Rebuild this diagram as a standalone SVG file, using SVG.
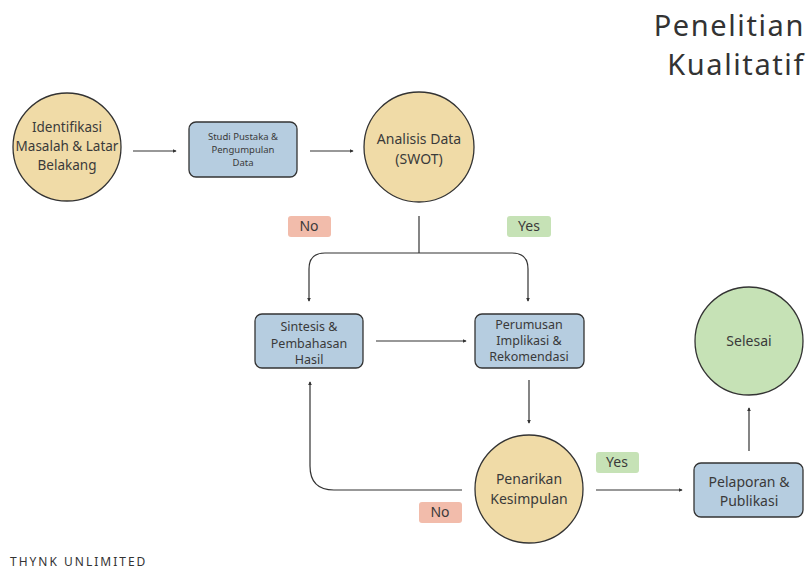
<svg xmlns="http://www.w3.org/2000/svg" width="808" height="570" viewBox="0 0 808 570">
<defs>
<marker id="ah" viewBox="0 0 6 6" refX="5" refY="3" markerWidth="4" markerHeight="4" orient="auto" markerUnits="userSpaceOnUse">
<path d="M0,0 L6,3 L0,6 z" fill="#333"/>
</marker>
<style>
text{font-family:"Noto Sans","DejaVu Sans",sans-serif;fill:#3a3a3a;text-anchor:middle}
.circ{fill:#f0dba7;stroke:#333;stroke-width:1.3}
.circg{fill:#c6e2b6;stroke:#333;stroke-width:1.3}
.box{fill:#b6cde0;stroke:#333;stroke-width:1.3}
.no{fill:#f2bcab}
.yes{fill:#c6e2b6}
.t14{font-size:14px}
.t12{font-size:12.5px}
.t9{font-size:9.5px}
.edge{fill:none;stroke:#333;stroke-width:1.2;marker-end:url(#ah)}
.line{fill:none;stroke:#333;stroke-width:1.2}
</style>
</defs>
<rect width="808" height="570" fill="#fff"/>
<g id="title">
<text x="805" y="36" style="font-size:29px;text-anchor:end;letter-spacing:1.6px;fill:#333">Penelitian</text>
<text x="805" y="75" style="font-size:29px;text-anchor:end;letter-spacing:1.6px;fill:#333">Kualitatif</text>
</g>
<g id="connectors">
<path class="edge" d="M133,151 L176,151"/>
<path class="edge" d="M310,151 L353,151"/>
<path class="line" d="M419,216 L419,253"/>
<path class="edge" d="M419,253 L325,253 Q309,253 309,269 L309,301"/>
<path class="edge" d="M419,253 L512,253 Q528,253 528,269 L528,301"/>
<path class="edge" d="M376,341 L466,341"/>
<path class="edge" d="M529,380 L529,423"/>
<path class="edge" d="M462,490 L334,490 Q310,490 310,466 L310,382"/>
<path class="edge" d="M596,490 L682,490"/>
<path class="edge" d="M749,451 L749,408"/>
</g>
<g id="n1"><circle class="circ" cx="67" cy="147" r="54"/>
<text class="t14" x="67" y="132" style="font-size:13.5px">Identifikasi</text>
<text class="t14" x="67" y="151" style="font-size:13.5px">Masalah &amp; Latar</text>
<text class="t14" x="67" y="170" style="font-size:13.5px">Belakang</text></g>
<g id="n2"><rect class="box" x="189" y="122" width="108" height="55" rx="7"/>
<text class="t9" x="243" y="140">Studi Pustaka &amp;</text>
<text class="t9" x="243" y="153">Pengumpulan</text>
<text class="t9" x="243" y="166">Data</text></g>
<g id="n3"><circle class="circ" cx="419" cy="147" r="55"/>
<text class="t14" x="419" y="144">Analisis Data</text>
<text class="t14" x="419" y="164">(SWOT)</text></g>
<g id="lbl-no1"><rect class="no" x="288" y="216" width="43" height="21" rx="3"/><text class="t14" x="309" y="231">No</text></g>
<g id="lbl-yes1"><rect class="yes" x="507" y="216" width="44" height="21" rx="3"/><text class="t14" x="529" y="231">Yes</text></g>
<g id="n4"><rect class="box" x="255" y="314" width="108" height="54" rx="7"/>
<text class="t12" x="309" y="331">Sintesis &amp;</text>
<text class="t12" x="309" y="348">Pembahasan</text>
<text class="t12" x="309" y="364">Hasil</text></g>
<g id="n5"><rect class="box" x="475" y="314" width="109" height="54" rx="7"/>
<text class="t12" x="529" y="329">Perumusan</text>
<text class="t12" x="529" y="345">Implikasi &amp;</text>
<text class="t12" x="529" y="361">Rekomendasi</text></g>
<g id="n6"><circle class="circ" cx="529" cy="489" r="54"/>
<text class="t14" x="529" y="484">Penarikan</text>
<text class="t14" x="529" y="504">Kesimpulan</text></g>
<g id="lbl-no2"><rect class="no" x="419" y="502" width="43" height="21" rx="3"/><text class="t14" x="440" y="517">No</text></g>
<g id="lbl-yes2"><rect class="yes" x="596" y="452" width="43" height="21" rx="3"/><text class="t14" x="617" y="467">Yes</text></g>
<g id="n7"><rect class="box" x="694" y="463" width="109" height="54" rx="7"/>
<text class="t14" x="749" y="487">Pelaporan &amp;</text>
<text class="t14" x="749" y="506">Publikasi</text></g>
<g id="n8"><circle class="circg" cx="749" cy="341" r="54"/>
<text class="t14" x="749" y="346">Selesai</text></g>
<text x="10" y="566" style="font-size:12px;text-anchor:start;letter-spacing:2px;fill:#333">THYNK UNLIMITED</text>
</svg>
